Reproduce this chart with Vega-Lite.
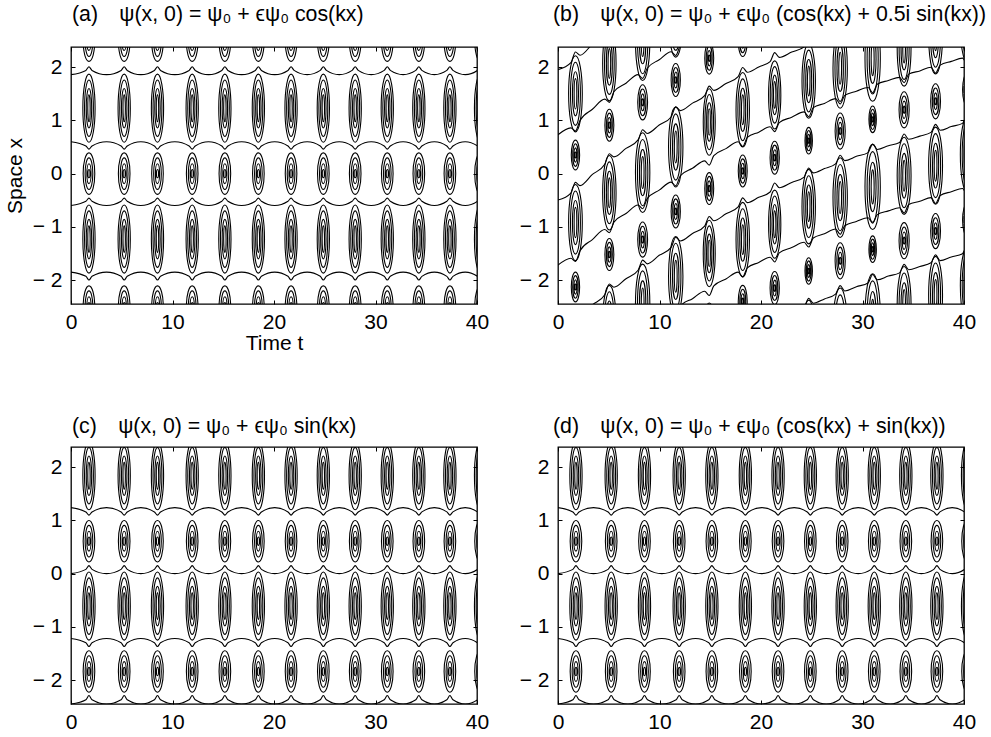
{
"$schema":"https://vega.github.io/schema/vega-lite/v6.json",
"background":"white",
"padding":{"left":3,"top":3,"right":5,"bottom":5},
"config":{"font":"Liberation Sans","view":{"stroke":"black","strokeWidth":1.3},
"axis":{"domain":false,"grid":false,"tickSize":-4,"tickColor":"black","tickWidth":1,"labelFontSize":21,"labelColor":"black","labelFont":"Liberation Sans","titleFontSize":21,"titleFont":"Liberation Sans","titleFontWeight":"normal","titleColor":"black"},
"title":{"fontSize":21.3,"fontWeight":"normal","color":"black","font":"Liberation Sans","anchor":"start","frame":"group"}},
"datasets":{
"ea":[
{"t":1.77,"x":2.5,"h":0.78,"k":"s"},{"t":1.77,"x":1.23,"h":1.28,"k":"b"},{"t":1.77,"x":0,"h":0.78,"k":"s"},{"t":1.77,"x":-1.23,"h":1.28,"k":"b"},{"t":1.77,"x":-2.5,"h":0.78,"k":"s"},
{"t":5.24,"x":2.5,"h":0.78,"k":"s"},{"t":5.24,"x":1.23,"h":1.28,"k":"b"},{"t":5.24,"x":0,"h":0.78,"k":"s"},{"t":5.24,"x":-1.23,"h":1.28,"k":"b"},{"t":5.24,"x":-2.5,"h":0.78,"k":"s"},
{"t":8.52,"x":2.5,"h":0.78,"k":"s"},{"t":8.52,"x":1.23,"h":1.28,"k":"b"},{"t":8.52,"x":0,"h":0.78,"k":"s"},{"t":8.52,"x":-1.23,"h":1.28,"k":"b"},{"t":8.52,"x":-2.5,"h":0.78,"k":"s"},
{"t":11.94,"x":2.5,"h":0.78,"k":"s"},{"t":11.94,"x":1.23,"h":1.28,"k":"b"},{"t":11.94,"x":0,"h":0.78,"k":"s"},{"t":11.94,"x":-1.23,"h":1.28,"k":"b"},{"t":11.94,"x":-2.5,"h":0.78,"k":"s"},
{"t":15.16,"x":2.5,"h":0.78,"k":"s"},{"t":15.16,"x":1.23,"h":1.28,"k":"b"},{"t":15.16,"x":0,"h":0.78,"k":"s"},{"t":15.16,"x":-1.23,"h":1.28,"k":"b"},{"t":15.16,"x":-2.5,"h":0.78,"k":"s"},
{"t":18.46,"x":2.5,"h":0.78,"k":"s"},{"t":18.46,"x":1.23,"h":1.28,"k":"b"},{"t":18.46,"x":0,"h":0.78,"k":"s"},{"t":18.46,"x":-1.23,"h":1.28,"k":"b"},{"t":18.46,"x":-2.5,"h":0.78,"k":"s"},
{"t":21.68,"x":2.5,"h":0.78,"k":"s"},{"t":21.68,"x":1.23,"h":1.28,"k":"b"},{"t":21.68,"x":0,"h":0.78,"k":"s"},{"t":21.68,"x":-1.23,"h":1.28,"k":"b"},{"t":21.68,"x":-2.5,"h":0.78,"k":"s"},
{"t":24.86,"x":2.5,"h":0.78,"k":"s"},{"t":24.86,"x":1.23,"h":1.28,"k":"b"},{"t":24.86,"x":0,"h":0.78,"k":"s"},{"t":24.86,"x":-1.23,"h":1.28,"k":"b"},{"t":24.86,"x":-2.5,"h":0.78,"k":"s"},
{"t":28.0,"x":2.5,"h":0.78,"k":"s"},{"t":28.0,"x":1.23,"h":1.28,"k":"b"},{"t":28.0,"x":0,"h":0.78,"k":"s"},{"t":28.0,"x":-1.23,"h":1.28,"k":"b"},{"t":28.0,"x":-2.5,"h":0.78,"k":"s"},
{"t":31.16,"x":2.5,"h":0.78,"k":"s"},{"t":31.16,"x":1.23,"h":1.28,"k":"b"},{"t":31.16,"x":0,"h":0.78,"k":"s"},{"t":31.16,"x":-1.23,"h":1.28,"k":"b"},{"t":31.16,"x":-2.5,"h":0.78,"k":"s"},
{"t":34.27,"x":2.5,"h":0.78,"k":"s"},{"t":34.27,"x":1.23,"h":1.28,"k":"b"},{"t":34.27,"x":0,"h":0.78,"k":"s"},{"t":34.27,"x":-1.23,"h":1.28,"k":"b"},{"t":34.27,"x":-2.5,"h":0.78,"k":"s"},
{"t":37.33,"x":2.5,"h":0.78,"k":"s"},{"t":37.33,"x":1.23,"h":1.28,"k":"b"},{"t":37.33,"x":0,"h":0.78,"k":"s"},{"t":37.33,"x":-1.23,"h":1.28,"k":"b"},{"t":37.33,"x":-2.5,"h":0.78,"k":"s"},
{"t":40.35,"x":2.5,"h":0.78,"k":"s"},{"t":40.35,"x":1.23,"h":1.28,"k":"b"},{"t":40.35,"x":0,"h":0.78,"k":"s"},{"t":40.35,"x":-1.23,"h":1.28,"k":"b"},{"t":40.35,"x":-2.5,"h":0.78,"k":"s"}
],
"ec":[
{"t":1.77,"x":1.84,"h":1.28,"k":"b"},{"t":1.77,"x":0.61,"h":0.78,"k":"s"},{"t":1.77,"x":-0.61,"h":1.28,"k":"b"},{"t":1.77,"x":-1.84,"h":0.78,"k":"s"},
{"t":5.24,"x":1.84,"h":1.28,"k":"b"},{"t":5.24,"x":0.61,"h":0.78,"k":"s"},{"t":5.24,"x":-0.61,"h":1.28,"k":"b"},{"t":5.24,"x":-1.84,"h":0.78,"k":"s"},
{"t":8.52,"x":1.84,"h":1.28,"k":"b"},{"t":8.52,"x":0.61,"h":0.78,"k":"s"},{"t":8.52,"x":-0.61,"h":1.28,"k":"b"},{"t":8.52,"x":-1.84,"h":0.78,"k":"s"},
{"t":11.94,"x":1.84,"h":1.28,"k":"b"},{"t":11.94,"x":0.61,"h":0.78,"k":"s"},{"t":11.94,"x":-0.61,"h":1.28,"k":"b"},{"t":11.94,"x":-1.84,"h":0.78,"k":"s"},
{"t":15.16,"x":1.84,"h":1.28,"k":"b"},{"t":15.16,"x":0.61,"h":0.78,"k":"s"},{"t":15.16,"x":-0.61,"h":1.28,"k":"b"},{"t":15.16,"x":-1.84,"h":0.78,"k":"s"},
{"t":18.46,"x":1.84,"h":1.28,"k":"b"},{"t":18.46,"x":0.61,"h":0.78,"k":"s"},{"t":18.46,"x":-0.61,"h":1.28,"k":"b"},{"t":18.46,"x":-1.84,"h":0.78,"k":"s"},
{"t":21.68,"x":1.84,"h":1.28,"k":"b"},{"t":21.68,"x":0.61,"h":0.78,"k":"s"},{"t":21.68,"x":-0.61,"h":1.28,"k":"b"},{"t":21.68,"x":-1.84,"h":0.78,"k":"s"},
{"t":24.86,"x":1.84,"h":1.28,"k":"b"},{"t":24.86,"x":0.61,"h":0.78,"k":"s"},{"t":24.86,"x":-0.61,"h":1.28,"k":"b"},{"t":24.86,"x":-1.84,"h":0.78,"k":"s"},
{"t":28.0,"x":1.84,"h":1.28,"k":"b"},{"t":28.0,"x":0.61,"h":0.78,"k":"s"},{"t":28.0,"x":-0.61,"h":1.28,"k":"b"},{"t":28.0,"x":-1.84,"h":0.78,"k":"s"},
{"t":31.16,"x":1.84,"h":1.28,"k":"b"},{"t":31.16,"x":0.61,"h":0.78,"k":"s"},{"t":31.16,"x":-0.61,"h":1.28,"k":"b"},{"t":31.16,"x":-1.84,"h":0.78,"k":"s"},
{"t":34.27,"x":1.84,"h":1.28,"k":"b"},{"t":34.27,"x":0.61,"h":0.78,"k":"s"},{"t":34.27,"x":-0.61,"h":1.28,"k":"b"},{"t":34.27,"x":-1.84,"h":0.78,"k":"s"},
{"t":37.33,"x":1.84,"h":1.28,"k":"b"},{"t":37.33,"x":0.61,"h":0.78,"k":"s"},{"t":37.33,"x":-0.61,"h":1.28,"k":"b"},{"t":37.33,"x":-1.84,"h":0.78,"k":"s"},
{"t":40.35,"x":1.84,"h":1.28,"k":"b"},{"t":40.35,"x":0.61,"h":0.78,"k":"s"},{"t":40.35,"x":-0.61,"h":1.28,"k":"b"},{"t":40.35,"x":-1.84,"h":0.78,"k":"s"}
],
"eb":[
{"t":1.72,"x":1.5,"h":1.43,"k":"b"},{"t":1.72,"x":0.35,"h":0.56,"k":"s"},{"t":1.72,"x":-0.92,"h":1.43,"k":"b"},{"t":1.72,"x":-2.13,"h":0.56,"k":"s"},
{"t":5.06,"x":2.07,"h":1.4,"k":"b"},{"t":5.06,"x":0.91,"h":0.6,"k":"s"},{"t":5.06,"x":-0.36,"h":1.4,"k":"b"},{"t":5.06,"x":-1.52,"h":0.6,"k":"s"},{"t":5.06,"x":-2.8,"h":1.4,"k":"b"},
{"t":8.34,"x":2.5,"h":1.5,"k":"b"},{"t":8.34,"x":1.34,"h":0.66,"k":"s"},{"t":8.34,"x":0.02,"h":1.5,"k":"b"},{"t":8.34,"x":-1.24,"h":0.66,"k":"s"},{"t":8.34,"x":-2.45,"h":1.5,"k":"b"},
{"t":11.6,"x":2.94,"h":1.5,"k":"b"},{"t":11.6,"x":1.76,"h":0.62,"k":"s"},{"t":11.6,"x":0.5,"h":1.5,"k":"b"},{"t":11.6,"x":-0.71,"h":0.62,"k":"s"},{"t":11.6,"x":-1.93,"h":1.5,"k":"b"},
{"t":14.9,"x":2.17,"h":0.6,"k":"s"},{"t":14.9,"x":0.97,"h":1.25,"k":"b"},{"t":14.9,"x":-0.28,"h":0.6,"k":"s"},{"t":14.9,"x":-1.5,"h":1.25,"k":"b"},{"t":14.9,"x":-2.73,"h":0.6,"k":"s"},
{"t":18.2,"x":2.5,"h":0.6,"k":"s"},{"t":18.2,"x":1.2,"h":1.4,"k":"b"},{"t":18.2,"x":0.05,"h":0.6,"k":"s"},{"t":18.2,"x":-1.24,"h":1.4,"k":"b"},{"t":18.2,"x":-2.4,"h":0.6,"k":"s"},
{"t":21.35,"x":1.48,"h":1.28,"k":"b"},{"t":21.35,"x":0.3,"h":0.62,"k":"s"},{"t":21.35,"x":-0.95,"h":1.28,"k":"b"},{"t":21.35,"x":-2.15,"h":0.62,"k":"s"},
{"t":24.7,"x":1.74,"h":1.4,"k":"b"},{"t":24.7,"x":0.62,"h":0.5,"k":"s"},{"t":24.7,"x":-0.62,"h":1.4,"k":"b"},{"t":24.7,"x":-1.83,"h":0.5,"k":"s"},{"t":24.7,"x":-3.08,"h":1.4,"k":"b"},
{"t":27.8,"x":1.98,"h":1.5,"k":"b"},{"t":27.8,"x":0.8,"h":0.68,"k":"s"},{"t":27.8,"x":-0.45,"h":1.5,"k":"b"},{"t":27.8,"x":-1.64,"h":0.68,"k":"s"},{"t":27.8,"x":-2.9,"h":1.5,"k":"b"},
{"t":31.0,"x":2.16,"h":1.6,"k":"b"},{"t":31.0,"x":1.02,"h":0.5,"k":"s"},{"t":31.0,"x":-0.25,"h":1.6,"k":"b"},{"t":31.0,"x":-1.42,"h":0.5,"k":"s"},{"t":31.0,"x":-2.68,"h":1.6,"k":"b"},
{"t":34.1,"x":2.37,"h":1.45,"k":"b"},{"t":34.1,"x":1.2,"h":0.68,"k":"s"},{"t":34.1,"x":-0.04,"h":1.45,"k":"b"},{"t":34.1,"x":-1.26,"h":0.68,"k":"s"},{"t":34.1,"x":-2.47,"h":1.45,"k":"b"},
{"t":37.2,"x":2.6,"h":1.45,"k":"b"},{"t":37.2,"x":1.36,"h":0.66,"k":"s"},{"t":37.2,"x":0.15,"h":1.45,"k":"b"},{"t":37.2,"x":-1.08,"h":0.66,"k":"s"},{"t":37.2,"x":-2.28,"h":1.45,"k":"b"},
{"t":40.3,"x":2.8,"h":1.4,"k":"b"},{"t":40.3,"x":1.58,"h":0.6,"k":"s"},{"t":40.3,"x":0.36,"h":1.4,"k":"b"},{"t":40.3,"x":-0.87,"h":0.6,"k":"s"},{"t":40.3,"x":-2.1,"h":1.4,"k":"b"}
],
"la":[
{"l":1,"t":0,"x":0.6},{"l":1,"t":1.47,"x":0.52},{"l":1,"t":1.77,"x":0.46},{"l":1,"t":2.07,"x":0.52},{"l":1,"t":3.5,"x":0.6},{"l":1,"t":4.94,"x":0.52},{"l":1,"t":5.24,"x":0.46},{"l":1,"t":5.54,"x":0.52},{"l":1,"t":6.88,"x":0.6},{"l":1,"t":8.22,"x":0.52},{"l":1,"t":8.52,"x":0.46},{"l":1,"t":8.82,"x":0.52},{"l":1,"t":10.23,"x":0.6},{"l":1,"t":11.64,"x":0.52},{"l":1,"t":11.94,"x":0.46},{"l":1,"t":12.24,"x":0.52},{"l":1,"t":13.55,"x":0.6},{"l":1,"t":14.86,"x":0.52},{"l":1,"t":15.16,"x":0.46},{"l":1,"t":15.46,"x":0.52},{"l":1,"t":16.81,"x":0.6},{"l":1,"t":18.16,"x":0.52},{"l":1,"t":18.46,"x":0.46},{"l":1,"t":18.76,"x":0.52},{"l":1,"t":20.07,"x":0.6},{"l":1,"t":21.38,"x":0.52},{"l":1,"t":21.68,"x":0.46},{"l":1,"t":21.98,"x":0.52},{"l":1,"t":23.27,"x":0.6},{"l":1,"t":24.56,"x":0.52},{"l":1,"t":24.86,"x":0.46},{"l":1,"t":25.16,"x":0.52},{"l":1,"t":26.43,"x":0.6},{"l":1,"t":27.7,"x":0.52},{"l":1,"t":28.0,"x":0.46},{"l":1,"t":28.3,"x":0.52},{"l":1,"t":29.58,"x":0.6},{"l":1,"t":30.86,"x":0.52},{"l":1,"t":31.16,"x":0.46},{"l":1,"t":31.46,"x":0.52},{"l":1,"t":32.72,"x":0.6},{"l":1,"t":33.97,"x":0.52},{"l":1,"t":34.27,"x":0.46},{"l":1,"t":34.57,"x":0.52},{"l":1,"t":35.8,"x":0.6},{"l":1,"t":37.03,"x":0.52},{"l":1,"t":37.33,"x":0.46},{"l":1,"t":37.63,"x":0.52},{"l":1,"t":38.84,"x":0.6},{"l":1,"t":40.05,"x":0.52},{"l":1,"t":40.35,"x":0.46},{"l":1,"t":40.65,"x":0.52},
{"l":2,"t":0,"x":-0.6},{"l":2,"t":1.47,"x":-0.52},{"l":2,"t":1.77,"x":-0.46},{"l":2,"t":2.07,"x":-0.52},{"l":2,"t":3.5,"x":-0.6},{"l":2,"t":4.94,"x":-0.52},{"l":2,"t":5.24,"x":-0.46},{"l":2,"t":5.54,"x":-0.52},{"l":2,"t":6.88,"x":-0.6},{"l":2,"t":8.22,"x":-0.52},{"l":2,"t":8.52,"x":-0.46},{"l":2,"t":8.82,"x":-0.52},{"l":2,"t":10.23,"x":-0.6},{"l":2,"t":11.64,"x":-0.52},{"l":2,"t":11.94,"x":-0.46},{"l":2,"t":12.24,"x":-0.52},{"l":2,"t":13.55,"x":-0.6},{"l":2,"t":14.86,"x":-0.52},{"l":2,"t":15.16,"x":-0.46},{"l":2,"t":15.46,"x":-0.52},{"l":2,"t":16.81,"x":-0.6},{"l":2,"t":18.16,"x":-0.52},{"l":2,"t":18.46,"x":-0.46},{"l":2,"t":18.76,"x":-0.52},{"l":2,"t":20.07,"x":-0.6},{"l":2,"t":21.38,"x":-0.52},{"l":2,"t":21.68,"x":-0.46},{"l":2,"t":21.98,"x":-0.52},{"l":2,"t":23.27,"x":-0.6},{"l":2,"t":24.56,"x":-0.52},{"l":2,"t":24.86,"x":-0.46},{"l":2,"t":25.16,"x":-0.52},{"l":2,"t":26.43,"x":-0.6},{"l":2,"t":27.7,"x":-0.52},{"l":2,"t":28.0,"x":-0.46},{"l":2,"t":28.3,"x":-0.52},{"l":2,"t":29.58,"x":-0.6},{"l":2,"t":30.86,"x":-0.52},{"l":2,"t":31.16,"x":-0.46},{"l":2,"t":31.46,"x":-0.52},{"l":2,"t":32.72,"x":-0.6},{"l":2,"t":33.97,"x":-0.52},{"l":2,"t":34.27,"x":-0.46},{"l":2,"t":34.57,"x":-0.52},{"l":2,"t":35.8,"x":-0.6},{"l":2,"t":37.03,"x":-0.52},{"l":2,"t":37.33,"x":-0.46},{"l":2,"t":37.63,"x":-0.52},{"l":2,"t":38.84,"x":-0.6},{"l":2,"t":40.05,"x":-0.52},{"l":2,"t":40.35,"x":-0.46},{"l":2,"t":40.65,"x":-0.52},
{"l":3,"t":0,"x":1.86},{"l":3,"t":1.47,"x":1.94},{"l":3,"t":1.77,"x":2.01},{"l":3,"t":2.07,"x":1.94},{"l":3,"t":3.5,"x":1.86},{"l":3,"t":4.94,"x":1.94},{"l":3,"t":5.24,"x":2.01},{"l":3,"t":5.54,"x":1.94},{"l":3,"t":6.88,"x":1.86},{"l":3,"t":8.22,"x":1.94},{"l":3,"t":8.52,"x":2.01},{"l":3,"t":8.82,"x":1.94},{"l":3,"t":10.23,"x":1.86},{"l":3,"t":11.64,"x":1.94},{"l":3,"t":11.94,"x":2.01},{"l":3,"t":12.24,"x":1.94},{"l":3,"t":13.55,"x":1.86},{"l":3,"t":14.86,"x":1.94},{"l":3,"t":15.16,"x":2.01},{"l":3,"t":15.46,"x":1.94},{"l":3,"t":16.81,"x":1.86},{"l":3,"t":18.16,"x":1.94},{"l":3,"t":18.46,"x":2.01},{"l":3,"t":18.76,"x":1.94},{"l":3,"t":20.07,"x":1.86},{"l":3,"t":21.38,"x":1.94},{"l":3,"t":21.68,"x":2.01},{"l":3,"t":21.98,"x":1.94},{"l":3,"t":23.27,"x":1.86},{"l":3,"t":24.56,"x":1.94},{"l":3,"t":24.86,"x":2.01},{"l":3,"t":25.16,"x":1.94},{"l":3,"t":26.43,"x":1.86},{"l":3,"t":27.7,"x":1.94},{"l":3,"t":28.0,"x":2.01},{"l":3,"t":28.3,"x":1.94},{"l":3,"t":29.58,"x":1.86},{"l":3,"t":30.86,"x":1.94},{"l":3,"t":31.16,"x":2.01},{"l":3,"t":31.46,"x":1.94},{"l":3,"t":32.72,"x":1.86},{"l":3,"t":33.97,"x":1.94},{"l":3,"t":34.27,"x":2.01},{"l":3,"t":34.57,"x":1.94},{"l":3,"t":35.8,"x":1.86},{"l":3,"t":37.03,"x":1.94},{"l":3,"t":37.33,"x":2.01},{"l":3,"t":37.63,"x":1.94},{"l":3,"t":38.84,"x":1.86},{"l":3,"t":40.05,"x":1.94},{"l":3,"t":40.35,"x":2.01},{"l":3,"t":40.65,"x":1.94},
{"l":4,"t":0,"x":-1.85},{"l":4,"t":1.47,"x":-1.93},{"l":4,"t":1.77,"x":-2.0},{"l":4,"t":2.07,"x":-1.93},{"l":4,"t":3.5,"x":-1.85},{"l":4,"t":4.94,"x":-1.93},{"l":4,"t":5.24,"x":-2.0},{"l":4,"t":5.54,"x":-1.93},{"l":4,"t":6.88,"x":-1.85},{"l":4,"t":8.22,"x":-1.93},{"l":4,"t":8.52,"x":-2.0},{"l":4,"t":8.82,"x":-1.93},{"l":4,"t":10.23,"x":-1.85},{"l":4,"t":11.64,"x":-1.93},{"l":4,"t":11.94,"x":-2.0},{"l":4,"t":12.24,"x":-1.93},{"l":4,"t":13.55,"x":-1.85},{"l":4,"t":14.86,"x":-1.93},{"l":4,"t":15.16,"x":-2.0},{"l":4,"t":15.46,"x":-1.93},{"l":4,"t":16.81,"x":-1.85},{"l":4,"t":18.16,"x":-1.93},{"l":4,"t":18.46,"x":-2.0},{"l":4,"t":18.76,"x":-1.93},{"l":4,"t":20.07,"x":-1.85},{"l":4,"t":21.38,"x":-1.93},{"l":4,"t":21.68,"x":-2.0},{"l":4,"t":21.98,"x":-1.93},{"l":4,"t":23.27,"x":-1.85},{"l":4,"t":24.56,"x":-1.93},{"l":4,"t":24.86,"x":-2.0},{"l":4,"t":25.16,"x":-1.93},{"l":4,"t":26.43,"x":-1.85},{"l":4,"t":27.7,"x":-1.93},{"l":4,"t":28.0,"x":-2.0},{"l":4,"t":28.3,"x":-1.93},{"l":4,"t":29.58,"x":-1.85},{"l":4,"t":30.86,"x":-1.93},{"l":4,"t":31.16,"x":-2.0},{"l":4,"t":31.46,"x":-1.93},{"l":4,"t":32.72,"x":-1.85},{"l":4,"t":33.97,"x":-1.93},{"l":4,"t":34.27,"x":-2.0},{"l":4,"t":34.57,"x":-1.93},{"l":4,"t":35.8,"x":-1.85},{"l":4,"t":37.03,"x":-1.93},{"l":4,"t":37.33,"x":-2.0},{"l":4,"t":37.63,"x":-1.93},{"l":4,"t":38.84,"x":-1.85},{"l":4,"t":40.05,"x":-1.93},{"l":4,"t":40.35,"x":-2.0},{"l":4,"t":40.65,"x":-1.93}
],
"lc":[
{"l":1,"t":0,"x":1.24},{"l":1,"t":1.47,"x":1.16},{"l":1,"t":1.77,"x":1.1},{"l":1,"t":2.07,"x":1.16},{"l":1,"t":3.5,"x":1.24},{"l":1,"t":4.94,"x":1.16},{"l":1,"t":5.24,"x":1.1},{"l":1,"t":5.54,"x":1.16},{"l":1,"t":6.88,"x":1.24},{"l":1,"t":8.22,"x":1.16},{"l":1,"t":8.52,"x":1.1},{"l":1,"t":8.82,"x":1.16},{"l":1,"t":10.23,"x":1.24},{"l":1,"t":11.64,"x":1.16},{"l":1,"t":11.94,"x":1.1},{"l":1,"t":12.24,"x":1.16},{"l":1,"t":13.55,"x":1.24},{"l":1,"t":14.86,"x":1.16},{"l":1,"t":15.16,"x":1.1},{"l":1,"t":15.46,"x":1.16},{"l":1,"t":16.81,"x":1.24},{"l":1,"t":18.16,"x":1.16},{"l":1,"t":18.46,"x":1.1},{"l":1,"t":18.76,"x":1.16},{"l":1,"t":20.07,"x":1.24},{"l":1,"t":21.38,"x":1.16},{"l":1,"t":21.68,"x":1.1},{"l":1,"t":21.98,"x":1.16},{"l":1,"t":23.27,"x":1.24},{"l":1,"t":24.56,"x":1.16},{"l":1,"t":24.86,"x":1.1},{"l":1,"t":25.16,"x":1.16},{"l":1,"t":26.43,"x":1.24},{"l":1,"t":27.7,"x":1.16},{"l":1,"t":28.0,"x":1.1},{"l":1,"t":28.3,"x":1.16},{"l":1,"t":29.58,"x":1.24},{"l":1,"t":30.86,"x":1.16},{"l":1,"t":31.16,"x":1.1},{"l":1,"t":31.46,"x":1.16},{"l":1,"t":32.72,"x":1.24},{"l":1,"t":33.97,"x":1.16},{"l":1,"t":34.27,"x":1.1},{"l":1,"t":34.57,"x":1.16},{"l":1,"t":35.8,"x":1.24},{"l":1,"t":37.03,"x":1.16},{"l":1,"t":37.33,"x":1.1},{"l":1,"t":37.63,"x":1.16},{"l":1,"t":38.84,"x":1.24},{"l":1,"t":40.05,"x":1.16},{"l":1,"t":40.35,"x":1.1},{"l":1,"t":40.65,"x":1.16},
{"l":2,"t":0,"x":0},{"l":2,"t":1.47,"x":0.08},{"l":2,"t":1.77,"x":0.15},{"l":2,"t":2.07,"x":0.08},{"l":2,"t":3.5,"x":0},{"l":2,"t":4.94,"x":0.08},{"l":2,"t":5.24,"x":0.15},{"l":2,"t":5.54,"x":0.08},{"l":2,"t":6.88,"x":0},{"l":2,"t":8.22,"x":0.08},{"l":2,"t":8.52,"x":0.15},{"l":2,"t":8.82,"x":0.08},{"l":2,"t":10.23,"x":0},{"l":2,"t":11.64,"x":0.08},{"l":2,"t":11.94,"x":0.15},{"l":2,"t":12.24,"x":0.08},{"l":2,"t":13.55,"x":0},{"l":2,"t":14.86,"x":0.08},{"l":2,"t":15.16,"x":0.15},{"l":2,"t":15.46,"x":0.08},{"l":2,"t":16.81,"x":0},{"l":2,"t":18.16,"x":0.08},{"l":2,"t":18.46,"x":0.15},{"l":2,"t":18.76,"x":0.08},{"l":2,"t":20.07,"x":0},{"l":2,"t":21.38,"x":0.08},{"l":2,"t":21.68,"x":0.15},{"l":2,"t":21.98,"x":0.08},{"l":2,"t":23.27,"x":0},{"l":2,"t":24.56,"x":0.08},{"l":2,"t":24.86,"x":0.15},{"l":2,"t":25.16,"x":0.08},{"l":2,"t":26.43,"x":0},{"l":2,"t":27.7,"x":0.08},{"l":2,"t":28.0,"x":0.15},{"l":2,"t":28.3,"x":0.08},{"l":2,"t":29.58,"x":0},{"l":2,"t":30.86,"x":0.08},{"l":2,"t":31.16,"x":0.15},{"l":2,"t":31.46,"x":0.08},{"l":2,"t":32.72,"x":0},{"l":2,"t":33.97,"x":0.08},{"l":2,"t":34.27,"x":0.15},{"l":2,"t":34.57,"x":0.08},{"l":2,"t":35.8,"x":0},{"l":2,"t":37.03,"x":0.08},{"l":2,"t":37.33,"x":0.15},{"l":2,"t":37.63,"x":0.08},{"l":2,"t":38.84,"x":0},{"l":2,"t":40.05,"x":0.08},{"l":2,"t":40.35,"x":0.15},{"l":2,"t":40.65,"x":0.08},
{"l":3,"t":0,"x":-1.22},{"l":3,"t":1.47,"x":-1.3},{"l":3,"t":1.77,"x":-1.37},{"l":3,"t":2.07,"x":-1.3},{"l":3,"t":3.5,"x":-1.22},{"l":3,"t":4.94,"x":-1.3},{"l":3,"t":5.24,"x":-1.37},{"l":3,"t":5.54,"x":-1.3},{"l":3,"t":6.88,"x":-1.22},{"l":3,"t":8.22,"x":-1.3},{"l":3,"t":8.52,"x":-1.37},{"l":3,"t":8.82,"x":-1.3},{"l":3,"t":10.23,"x":-1.22},{"l":3,"t":11.64,"x":-1.3},{"l":3,"t":11.94,"x":-1.37},{"l":3,"t":12.24,"x":-1.3},{"l":3,"t":13.55,"x":-1.22},{"l":3,"t":14.86,"x":-1.3},{"l":3,"t":15.16,"x":-1.37},{"l":3,"t":15.46,"x":-1.3},{"l":3,"t":16.81,"x":-1.22},{"l":3,"t":18.16,"x":-1.3},{"l":3,"t":18.46,"x":-1.37},{"l":3,"t":18.76,"x":-1.3},{"l":3,"t":20.07,"x":-1.22},{"l":3,"t":21.38,"x":-1.3},{"l":3,"t":21.68,"x":-1.37},{"l":3,"t":21.98,"x":-1.3},{"l":3,"t":23.27,"x":-1.22},{"l":3,"t":24.56,"x":-1.3},{"l":3,"t":24.86,"x":-1.37},{"l":3,"t":25.16,"x":-1.3},{"l":3,"t":26.43,"x":-1.22},{"l":3,"t":27.7,"x":-1.3},{"l":3,"t":28.0,"x":-1.37},{"l":3,"t":28.3,"x":-1.3},{"l":3,"t":29.58,"x":-1.22},{"l":3,"t":30.86,"x":-1.3},{"l":3,"t":31.16,"x":-1.37},{"l":3,"t":31.46,"x":-1.3},{"l":3,"t":32.72,"x":-1.22},{"l":3,"t":33.97,"x":-1.3},{"l":3,"t":34.27,"x":-1.37},{"l":3,"t":34.57,"x":-1.3},{"l":3,"t":35.8,"x":-1.22},{"l":3,"t":37.03,"x":-1.3},{"l":3,"t":37.33,"x":-1.37},{"l":3,"t":37.63,"x":-1.3},{"l":3,"t":38.84,"x":-1.22},{"l":3,"t":40.05,"x":-1.3},{"l":3,"t":40.35,"x":-1.37},{"l":3,"t":40.65,"x":-1.3},
{"l":4,"t":0,"x":-2.45},{"l":4,"t":1.47,"x":-2.37},{"l":4,"t":1.77,"x":-2.29},{"l":4,"t":2.07,"x":-2.37},{"l":4,"t":3.5,"x":-2.45},{"l":4,"t":4.94,"x":-2.37},{"l":4,"t":5.24,"x":-2.29},{"l":4,"t":5.54,"x":-2.37},{"l":4,"t":6.88,"x":-2.45},{"l":4,"t":8.22,"x":-2.37},{"l":4,"t":8.52,"x":-2.29},{"l":4,"t":8.82,"x":-2.37},{"l":4,"t":10.23,"x":-2.45},{"l":4,"t":11.64,"x":-2.37},{"l":4,"t":11.94,"x":-2.29},{"l":4,"t":12.24,"x":-2.37},{"l":4,"t":13.55,"x":-2.45},{"l":4,"t":14.86,"x":-2.37},{"l":4,"t":15.16,"x":-2.29},{"l":4,"t":15.46,"x":-2.37},{"l":4,"t":16.81,"x":-2.45},{"l":4,"t":18.16,"x":-2.37},{"l":4,"t":18.46,"x":-2.29},{"l":4,"t":18.76,"x":-2.37},{"l":4,"t":20.07,"x":-2.45},{"l":4,"t":21.38,"x":-2.37},{"l":4,"t":21.68,"x":-2.29},{"l":4,"t":21.98,"x":-2.37},{"l":4,"t":23.27,"x":-2.45},{"l":4,"t":24.56,"x":-2.37},{"l":4,"t":24.86,"x":-2.29},{"l":4,"t":25.16,"x":-2.37},{"l":4,"t":26.43,"x":-2.45},{"l":4,"t":27.7,"x":-2.37},{"l":4,"t":28.0,"x":-2.29},{"l":4,"t":28.3,"x":-2.37},{"l":4,"t":29.58,"x":-2.45},{"l":4,"t":30.86,"x":-2.37},{"l":4,"t":31.16,"x":-2.29},{"l":4,"t":31.46,"x":-2.37},{"l":4,"t":32.72,"x":-2.45},{"l":4,"t":33.97,"x":-2.37},{"l":4,"t":34.27,"x":-2.29},{"l":4,"t":34.57,"x":-2.37},{"l":4,"t":35.8,"x":-2.45},{"l":4,"t":37.03,"x":-2.37},{"l":4,"t":37.33,"x":-2.29},{"l":4,"t":37.63,"x":-2.37},{"l":4,"t":38.84,"x":-2.45},{"l":4,"t":40.05,"x":-2.37},{"l":4,"t":40.35,"x":-2.29},{"l":4,"t":40.65,"x":-2.37}
],
"lb":[
{"l":1,"t":0,"x":1.955},{"l":1,"t":1.27,"x":2.085},{"l":1,"t":1.72,"x":2.285},{"l":1,"t":2.17,"x":2.225},{"l":1,"t":3.39,"x":2.435},{"l":1,"t":4.61,"x":2.625},{"l":1,"t":5.06,"x":2.825},
{"l":2,"t":0,"x":0.73},{"l":2,"t":1.27,"x":0.86},{"l":2,"t":1.72,"x":0.8},{"l":2,"t":2.17,"x":1.0},{"l":2,"t":3.39,"x":1.21},{"l":2,"t":4.61,"x":1.4},{"l":2,"t":5.06,"x":1.34},{"l":2,"t":5.51,"x":1.54},{"l":2,"t":6.7,"x":1.7},{"l":2,"t":7.89,"x":1.86},{"l":2,"t":8.34,"x":1.79},{"l":2,"t":8.79,"x":1.98},{"l":2,"t":9.97,"x":2.14},{"l":2,"t":11.15,"x":2.29},{"l":2,"t":11.6,"x":2.22},{"l":2,"t":12.05,"x":2.41},{"l":2,"t":13.25,"x":2.55},{"l":2,"t":14.45,"x":2.69},
{"l":3,"t":0,"x":-0.495},{"l":3,"t":1.27,"x":-0.365},{"l":3,"t":1.72,"x":-0.165},{"l":3,"t":2.17,"x":-0.225},{"l":3,"t":3.39,"x":-0.015},{"l":3,"t":4.61,"x":0.175},{"l":3,"t":5.06,"x":0.375},{"l":3,"t":5.51,"x":0.315},{"l":3,"t":6.7,"x":0.475},{"l":3,"t":7.89,"x":0.635},{"l":3,"t":8.34,"x":0.825},{"l":3,"t":8.79,"x":0.755},{"l":3,"t":9.97,"x":0.915},{"l":3,"t":11.15,"x":1.065},{"l":3,"t":11.6,"x":1.255},{"l":3,"t":12.05,"x":1.185},{"l":3,"t":13.25,"x":1.325},{"l":3,"t":14.45,"x":1.465},{"l":3,"t":14.9,"x":1.645},{"l":3,"t":15.35,"x":1.565},{"l":3,"t":16.55,"x":1.695},{"l":3,"t":17.75,"x":1.825},{"l":3,"t":18.2,"x":1.995},{"l":3,"t":18.65,"x":1.905},{"l":3,"t":19.78,"x":2.005},{"l":3,"t":20.9,"x":2.105},{"l":3,"t":21.35,"x":2.275},{"l":3,"t":21.8,"x":2.185},{"l":3,"t":23.03,"x":2.285},{"l":3,"t":24.25,"x":2.385},{"l":3,"t":24.7,"x":2.555},{"l":3,"t":25.15,"x":2.465},
{"l":4,"t":0,"x":-1.72},{"l":4,"t":1.27,"x":-1.59},{"l":4,"t":1.72,"x":-1.65},{"l":4,"t":2.17,"x":-1.45},{"l":4,"t":3.39,"x":-1.24},{"l":4,"t":4.61,"x":-1.05},{"l":4,"t":5.06,"x":-1.11},{"l":4,"t":5.51,"x":-0.91},{"l":4,"t":6.7,"x":-0.75},{"l":4,"t":7.89,"x":-0.59},{"l":4,"t":8.34,"x":-0.66},{"l":4,"t":8.79,"x":-0.47},{"l":4,"t":9.97,"x":-0.31},{"l":4,"t":11.15,"x":-0.16},{"l":4,"t":11.6,"x":-0.23},{"l":4,"t":12.05,"x":-0.04},{"l":4,"t":13.25,"x":0.1},{"l":4,"t":14.45,"x":0.24},{"l":4,"t":14.9,"x":0.16},{"l":4,"t":15.35,"x":0.34},{"l":4,"t":16.55,"x":0.47},{"l":4,"t":17.75,"x":0.6},{"l":4,"t":18.2,"x":0.51},{"l":4,"t":18.65,"x":0.68},{"l":4,"t":19.78,"x":0.78},{"l":4,"t":20.9,"x":0.88},{"l":4,"t":21.35,"x":0.79},{"l":4,"t":21.8,"x":0.96},{"l":4,"t":23.03,"x":1.06},{"l":4,"t":24.25,"x":1.16},{"l":4,"t":24.7,"x":1.07},{"l":4,"t":25.15,"x":1.24},{"l":4,"t":26.25,"x":1.32},{"l":4,"t":27.35,"x":1.41},{"l":4,"t":27.8,"x":1.31},{"l":4,"t":28.25,"x":1.47},{"l":4,"t":29.4,"x":1.55},{"l":4,"t":30.55,"x":1.62},{"l":4,"t":31.0,"x":1.52},{"l":4,"t":31.45,"x":1.68},{"l":4,"t":32.55,"x":1.75},{"l":4,"t":33.65,"x":1.81},{"l":4,"t":34.1,"x":1.71},{"l":4,"t":34.55,"x":1.87},{"l":4,"t":35.65,"x":1.93},{"l":4,"t":36.75,"x":2.0},{"l":4,"t":37.2,"x":1.89},{"l":4,"t":37.65,"x":2.04},{"l":4,"t":38.75,"x":2.11},{"l":4,"t":39.85,"x":2.17},{"l":4,"t":40.3,"x":2.06},{"l":4,"t":40.75,"x":2.21},
{"l":5,"t":0,"x":-2.945},{"l":5,"t":1.27,"x":-2.815},{"l":5,"t":1.72,"x":-2.615},{"l":5,"t":2.17,"x":-2.675},{"l":5,"t":3.39,"x":-2.465},{"l":5,"t":4.61,"x":-2.275},{"l":5,"t":5.06,"x":-2.075},{"l":5,"t":5.51,"x":-2.135},{"l":5,"t":6.7,"x":-1.975},{"l":5,"t":7.89,"x":-1.815},{"l":5,"t":8.34,"x":-1.625},{"l":5,"t":8.79,"x":-1.695},{"l":5,"t":9.97,"x":-1.535},{"l":5,"t":11.15,"x":-1.385},{"l":5,"t":11.6,"x":-1.195},{"l":5,"t":12.05,"x":-1.265},{"l":5,"t":13.25,"x":-1.125},{"l":5,"t":14.45,"x":-0.985},{"l":5,"t":14.9,"x":-0.805},{"l":5,"t":15.35,"x":-0.885},{"l":5,"t":16.55,"x":-0.755},{"l":5,"t":17.75,"x":-0.625},{"l":5,"t":18.2,"x":-0.455},{"l":5,"t":18.65,"x":-0.545},{"l":5,"t":19.78,"x":-0.445},{"l":5,"t":20.9,"x":-0.345},{"l":5,"t":21.35,"x":-0.175},{"l":5,"t":21.8,"x":-0.265},{"l":5,"t":23.03,"x":-0.165},{"l":5,"t":24.25,"x":-0.065},{"l":5,"t":24.7,"x":0.105},{"l":5,"t":25.15,"x":0.015},{"l":5,"t":26.25,"x":0.095},{"l":5,"t":27.35,"x":0.185},{"l":5,"t":27.8,"x":0.345},{"l":5,"t":28.25,"x":0.245},{"l":5,"t":29.4,"x":0.325},{"l":5,"t":30.55,"x":0.395},{"l":5,"t":31.0,"x":0.555},{"l":5,"t":31.45,"x":0.455},{"l":5,"t":32.55,"x":0.525},{"l":5,"t":33.65,"x":0.585},{"l":5,"t":34.1,"x":0.745},{"l":5,"t":34.55,"x":0.645},{"l":5,"t":35.65,"x":0.705},{"l":5,"t":36.75,"x":0.775},{"l":5,"t":37.2,"x":0.925},{"l":5,"t":37.65,"x":0.815},{"l":5,"t":38.75,"x":0.885},{"l":5,"t":39.85,"x":0.945},{"l":5,"t":40.3,"x":1.095},{"l":5,"t":40.75,"x":0.985},
{"l":6,"t":7.89,"x":-3.04},{"l":6,"t":8.34,"x":-3.11},{"l":6,"t":8.79,"x":-2.92},{"l":6,"t":9.97,"x":-2.76},{"l":6,"t":11.15,"x":-2.61},{"l":6,"t":11.6,"x":-2.68},{"l":6,"t":12.05,"x":-2.49},{"l":6,"t":13.25,"x":-2.35},{"l":6,"t":14.45,"x":-2.21},{"l":6,"t":14.9,"x":-2.29},{"l":6,"t":15.35,"x":-2.11},{"l":6,"t":16.55,"x":-1.98},{"l":6,"t":17.75,"x":-1.85},{"l":6,"t":18.2,"x":-1.94},{"l":6,"t":18.65,"x":-1.77},{"l":6,"t":19.78,"x":-1.67},{"l":6,"t":20.9,"x":-1.57},{"l":6,"t":21.35,"x":-1.66},{"l":6,"t":21.8,"x":-1.49},{"l":6,"t":23.03,"x":-1.39},{"l":6,"t":24.25,"x":-1.29},{"l":6,"t":24.7,"x":-1.38},{"l":6,"t":25.15,"x":-1.21},{"l":6,"t":26.25,"x":-1.13},{"l":6,"t":27.35,"x":-1.04},{"l":6,"t":27.8,"x":-1.14},{"l":6,"t":28.25,"x":-0.98},{"l":6,"t":29.4,"x":-0.9},{"l":6,"t":30.55,"x":-0.83},{"l":6,"t":31.0,"x":-0.93},{"l":6,"t":31.45,"x":-0.77},{"l":6,"t":32.55,"x":-0.7},{"l":6,"t":33.65,"x":-0.64},{"l":6,"t":34.1,"x":-0.74},{"l":6,"t":34.55,"x":-0.58},{"l":6,"t":35.65,"x":-0.52},{"l":6,"t":36.75,"x":-0.45},{"l":6,"t":37.2,"x":-0.56},{"l":6,"t":37.65,"x":-0.41},{"l":6,"t":38.75,"x":-0.34},{"l":6,"t":39.85,"x":-0.28},{"l":6,"t":40.3,"x":-0.39},{"l":6,"t":40.75,"x":-0.24},
{"l":7,"t":17.75,"x":-3.075},{"l":7,"t":18.2,"x":-2.905},{"l":7,"t":18.65,"x":-2.995},{"l":7,"t":19.78,"x":-2.895},{"l":7,"t":20.9,"x":-2.795},{"l":7,"t":21.35,"x":-2.625},{"l":7,"t":21.8,"x":-2.715},{"l":7,"t":23.03,"x":-2.615},{"l":7,"t":24.25,"x":-2.515},{"l":7,"t":24.7,"x":-2.345},{"l":7,"t":25.15,"x":-2.435},{"l":7,"t":26.25,"x":-2.355},{"l":7,"t":27.35,"x":-2.265},{"l":7,"t":27.8,"x":-2.105},{"l":7,"t":28.25,"x":-2.205},{"l":7,"t":29.4,"x":-2.125},{"l":7,"t":30.55,"x":-2.055},{"l":7,"t":31.0,"x":-1.895},{"l":7,"t":31.45,"x":-1.995},{"l":7,"t":32.55,"x":-1.925},{"l":7,"t":33.65,"x":-1.865},{"l":7,"t":34.1,"x":-1.705},{"l":7,"t":34.55,"x":-1.805},{"l":7,"t":35.65,"x":-1.745},{"l":7,"t":36.75,"x":-1.675},{"l":7,"t":37.2,"x":-1.525},{"l":7,"t":37.65,"x":-1.635},{"l":7,"t":38.75,"x":-1.565},{"l":7,"t":39.85,"x":-1.505},{"l":7,"t":40.3,"x":-1.355},{"l":7,"t":40.75,"x":-1.465}
]
},
"columns":2,
"spacing":{"row":143,"column":81},
"bounds":"flush",
"concat":[
{"width":406,"height":257,
"title":{"text":"(a)\u2003ψ(x, 0) = ψ₀ + ϵψ₀ cos(kx)","offset":21,"dx":1},
"layer":[
{"data":{"name":"ea"},"mark":{"type":"point","filled":false,"stroke":"black","strokeWidth":1.1,"opacity":1,"clip":true},
"encoding":{
"x":{"field":"t","type":"quantitative","scale":{"domain":[0,40],"nice":false,"zero":false},"axis":{"orient":"bottom","values":[0,10,20,30,40],"labelPadding":11.5,"labelFlush":false,"labelOverlap":false,"title":"Time t","titlePadding":0}},
"y":{"field":"x","type":"quantitative","scale":{"domain":[-2.45,2.38],"nice":false,"zero":false},"axis":{"orient":"left","values":[-2,-1,0,1,2],"labelPadding":13,"labelFlush":false,"labelOverlap":false,"labelExpr":"datum.value < 0 ? '− ' + abs(datum.value) : datum.label","title":"Space x","titlePadding":7}},
"shape":{"field":"k","type":"nominal","legend":null,"scale":{"domain":["b","s"],"range":["M0,-1C0.099,-1 0.18,-0.552 0.18,0C0.18,0.552 0.099,1 0,1C-0.099,1 -0.18,0.552 -0.18,0C-0.18,-0.552 -0.099,-1 0,-1ZM0,-0.83C0.072,-0.83 0.13,-0.458 0.13,0C0.13,0.458 0.072,0.83 0,0.83C-0.072,0.83 -0.13,0.458 -0.13,0C-0.13,-0.458 -0.072,-0.83 0,-0.83ZM0,-0.58C0.044,-0.58 0.08,-0.32 0.08,0C0.08,0.32 0.044,0.58 0,0.58C-0.044,0.58 -0.08,0.32 -0.08,0C-0.08,-0.32 -0.044,-0.58 0,-0.58ZM0,-0.4C0.019,-0.4 0.035,-0.221 0.035,0C0.035,0.221 0.019,0.4 0,0.4C-0.019,0.4 -0.035,0.221 -0.035,0C-0.035,-0.221 -0.019,-0.4 0,-0.4Z","M0,-1C0.155,-1 0.28,-0.552 0.28,0C0.28,0.552 0.155,1 0,1C-0.155,1 -0.28,0.552 -0.28,0C-0.28,-0.552 -0.155,-1 0,-1ZM0,-0.76C0.102,-0.76 0.185,-0.42 0.185,0C0.185,0.42 0.102,0.76 0,0.76C-0.102,0.76 -0.185,0.42 -0.185,0C-0.185,-0.42 -0.102,-0.76 0,-0.76ZM0,-0.48C0.055,-0.48 0.1,-0.265 0.1,0C0.1,0.265 0.055,0.48 0,0.48C-0.055,0.48 -0.1,0.265 -0.1,0C-0.1,-0.265 -0.055,-0.48 0,-0.48ZM0,-0.2C0.028,-0.2 0.05,-0.11 0.05,0C0.05,0.11 0.028,0.2 0,0.2C-0.028,0.2 -0.05,0.11 -0.05,0C-0.05,-0.11 -0.028,-0.2 0,-0.2Z"]}},
"size":{"field":"h","type":"quantitative","legend":null,"scale":{"type":"pow","exponent":2,"domain":[0,1],"range":[0,2830]}}
}},
{"data":{"name":"la"},"mark":{"type":"line","color":"black","strokeWidth":1.1,"interpolate":"monotone","clip":true},
"encoding":{
"x":{"field":"t","type":"quantitative","scale":{"domain":[0,40],"nice":false,"zero":false},"axis":{"orient":"top","values":[0,10,20,30,40],"labels":false,"title":null}},
"y":{"field":"x","type":"quantitative","scale":{"domain":[-2.45,2.38],"nice":false,"zero":false},"axis":{"orient":"right","values":[-2,-1,0,1,2],"labels":false,"title":null}},
"detail":{"field":"l","type":"nominal"}
}}
],
"resolve":{"axis":{"x":"independent","y":"independent"}}
},
{"width":406,"height":257,
"title":{"text":"(b)\u2003ψ(x, 0) = ψ₀ + ϵψ₀ (cos(kx) + 0.5i sin(kx))","offset":21,"dx":-5},
"layer":[
{"data":{"name":"eb"},"mark":{"type":"point","filled":false,"stroke":"black","strokeWidth":1.1,"opacity":1,"clip":true},
"encoding":{
"x":{"field":"t","type":"quantitative","scale":{"domain":[0,40],"nice":false,"zero":false},"axis":{"orient":"bottom","values":[0,10,20,30,40],"labelPadding":11.5,"labelFlush":false,"labelOverlap":false,"title":null}},
"y":{"field":"x","type":"quantitative","scale":{"domain":[-2.45,2.38],"nice":false,"zero":false},"axis":{"orient":"left","values":[-2,-1,0,1,2],"labelPadding":13,"labelFlush":false,"labelOverlap":false,"labelExpr":"datum.value < 0 ? '− ' + abs(datum.value) : datum.label","title":null}},
"shape":{"field":"k","type":"nominal","legend":null,"scale":{"domain":["b","s"],"range":["M0,-1C0.099,-1 0.18,-0.552 0.18,0C0.18,0.552 0.099,1 0,1C-0.099,1 -0.18,0.552 -0.18,0C-0.18,-0.552 -0.099,-1 0,-1ZM0,-0.83C0.072,-0.83 0.13,-0.458 0.13,0C0.13,0.458 0.072,0.83 0,0.83C-0.072,0.83 -0.13,0.458 -0.13,0C-0.13,-0.458 -0.072,-0.83 0,-0.83ZM0,-0.58C0.044,-0.58 0.08,-0.32 0.08,0C0.08,0.32 0.044,0.58 0,0.58C-0.044,0.58 -0.08,0.32 -0.08,0C-0.08,-0.32 -0.044,-0.58 0,-0.58ZM0,-0.4C0.019,-0.4 0.035,-0.221 0.035,0C0.035,0.221 0.019,0.4 0,0.4C-0.019,0.4 -0.035,0.221 -0.035,0C-0.035,-0.221 -0.019,-0.4 0,-0.4Z","M0,-1C0.155,-1 0.28,-0.552 0.28,0C0.28,0.552 0.155,1 0,1C-0.155,1 -0.28,0.552 -0.28,0C-0.28,-0.552 -0.155,-1 0,-1ZM0,-0.76C0.102,-0.76 0.185,-0.42 0.185,0C0.185,0.42 0.102,0.76 0,0.76C-0.102,0.76 -0.185,0.42 -0.185,0C-0.185,-0.42 -0.102,-0.76 0,-0.76ZM0,-0.48C0.055,-0.48 0.1,-0.265 0.1,0C0.1,0.265 0.055,0.48 0,0.48C-0.055,0.48 -0.1,0.265 -0.1,0C-0.1,-0.265 -0.055,-0.48 0,-0.48ZM0,-0.2C0.028,-0.2 0.05,-0.11 0.05,0C0.05,0.11 0.028,0.2 0,0.2C-0.028,0.2 -0.05,0.11 -0.05,0C-0.05,-0.11 -0.028,-0.2 0,-0.2Z"]}},
"size":{"field":"h","type":"quantitative","legend":null,"scale":{"type":"pow","exponent":2,"domain":[0,1],"range":[0,2830]}}
}},
{"data":{"name":"lb"},"mark":{"type":"line","color":"black","strokeWidth":1.1,"interpolate":"monotone","clip":true},
"encoding":{
"x":{"field":"t","type":"quantitative","scale":{"domain":[0,40],"nice":false,"zero":false},"axis":{"orient":"top","values":[0,10,20,30,40],"labels":false,"title":null}},
"y":{"field":"x","type":"quantitative","scale":{"domain":[-2.45,2.38],"nice":false,"zero":false},"axis":{"orient":"right","values":[-2,-1,0,1,2],"labels":false,"title":null}},
"detail":{"field":"l","type":"nominal"}
}}
],
"resolve":{"axis":{"x":"independent","y":"independent"}}
},
{"width":406,"height":257,
"title":{"text":"(c)\u2003ψ(x, 0) = ψ₀ + ϵψ₀ sin(kx)","offset":9,"dx":1},
"layer":[
{"data":{"name":"ec"},"mark":{"type":"point","filled":false,"stroke":"black","strokeWidth":1.1,"opacity":1,"clip":true},
"encoding":{
"x":{"field":"t","type":"quantitative","scale":{"domain":[0,40],"nice":false,"zero":false},"axis":{"orient":"bottom","values":[0,10,20,30,40],"labelPadding":11.5,"labelFlush":false,"labelOverlap":false,"title":null}},
"y":{"field":"x","type":"quantitative","scale":{"domain":[-2.45,2.38],"nice":false,"zero":false},"axis":{"orient":"left","values":[-2,-1,0,1,2],"labelPadding":13,"labelFlush":false,"labelOverlap":false,"labelExpr":"datum.value < 0 ? '− ' + abs(datum.value) : datum.label","title":null}},
"shape":{"field":"k","type":"nominal","legend":null,"scale":{"domain":["b","s"],"range":["M0,-1C0.099,-1 0.18,-0.552 0.18,0C0.18,0.552 0.099,1 0,1C-0.099,1 -0.18,0.552 -0.18,0C-0.18,-0.552 -0.099,-1 0,-1ZM0,-0.83C0.072,-0.83 0.13,-0.458 0.13,0C0.13,0.458 0.072,0.83 0,0.83C-0.072,0.83 -0.13,0.458 -0.13,0C-0.13,-0.458 -0.072,-0.83 0,-0.83ZM0,-0.58C0.044,-0.58 0.08,-0.32 0.08,0C0.08,0.32 0.044,0.58 0,0.58C-0.044,0.58 -0.08,0.32 -0.08,0C-0.08,-0.32 -0.044,-0.58 0,-0.58ZM0,-0.4C0.019,-0.4 0.035,-0.221 0.035,0C0.035,0.221 0.019,0.4 0,0.4C-0.019,0.4 -0.035,0.221 -0.035,0C-0.035,-0.221 -0.019,-0.4 0,-0.4Z","M0,-1C0.155,-1 0.28,-0.552 0.28,0C0.28,0.552 0.155,1 0,1C-0.155,1 -0.28,0.552 -0.28,0C-0.28,-0.552 -0.155,-1 0,-1ZM0,-0.76C0.102,-0.76 0.185,-0.42 0.185,0C0.185,0.42 0.102,0.76 0,0.76C-0.102,0.76 -0.185,0.42 -0.185,0C-0.185,-0.42 -0.102,-0.76 0,-0.76ZM0,-0.48C0.055,-0.48 0.1,-0.265 0.1,0C0.1,0.265 0.055,0.48 0,0.48C-0.055,0.48 -0.1,0.265 -0.1,0C-0.1,-0.265 -0.055,-0.48 0,-0.48ZM0,-0.2C0.028,-0.2 0.05,-0.11 0.05,0C0.05,0.11 0.028,0.2 0,0.2C-0.028,0.2 -0.05,0.11 -0.05,0C-0.05,-0.11 -0.028,-0.2 0,-0.2Z"]}},
"size":{"field":"h","type":"quantitative","legend":null,"scale":{"type":"pow","exponent":2,"domain":[0,1],"range":[0,2830]}}
}},
{"data":{"name":"lc"},"mark":{"type":"line","color":"black","strokeWidth":1.1,"interpolate":"monotone","clip":true},
"encoding":{
"x":{"field":"t","type":"quantitative","scale":{"domain":[0,40],"nice":false,"zero":false},"axis":{"orient":"top","values":[0,10,20,30,40],"labels":false,"title":null}},
"y":{"field":"x","type":"quantitative","scale":{"domain":[-2.45,2.38],"nice":false,"zero":false},"axis":{"orient":"right","values":[-2,-1,0,1,2],"labels":false,"title":null}},
"detail":{"field":"l","type":"nominal"}
}}
],
"resolve":{"axis":{"x":"independent","y":"independent"}}
},
{"width":406,"height":257,
"title":{"text":"(d)\u2003ψ(x, 0) = ψ₀ + ϵψ₀ (cos(kx) + sin(kx))","offset":9,"dx":-5},
"layer":[
{"data":{"name":"ec"},"mark":{"type":"point","filled":false,"stroke":"black","strokeWidth":1.1,"opacity":1,"clip":true},
"encoding":{
"x":{"field":"t","type":"quantitative","scale":{"domain":[0,40],"nice":false,"zero":false},"axis":{"orient":"bottom","values":[0,10,20,30,40],"labelPadding":11.5,"labelFlush":false,"labelOverlap":false,"title":null}},
"y":{"field":"x","type":"quantitative","scale":{"domain":[-2.45,2.38],"nice":false,"zero":false},"axis":{"orient":"left","values":[-2,-1,0,1,2],"labelPadding":13,"labelFlush":false,"labelOverlap":false,"labelExpr":"datum.value < 0 ? '− ' + abs(datum.value) : datum.label","title":null}},
"shape":{"field":"k","type":"nominal","legend":null,"scale":{"domain":["b","s"],"range":["M0,-1C0.099,-1 0.18,-0.552 0.18,0C0.18,0.552 0.099,1 0,1C-0.099,1 -0.18,0.552 -0.18,0C-0.18,-0.552 -0.099,-1 0,-1ZM0,-0.83C0.072,-0.83 0.13,-0.458 0.13,0C0.13,0.458 0.072,0.83 0,0.83C-0.072,0.83 -0.13,0.458 -0.13,0C-0.13,-0.458 -0.072,-0.83 0,-0.83ZM0,-0.58C0.044,-0.58 0.08,-0.32 0.08,0C0.08,0.32 0.044,0.58 0,0.58C-0.044,0.58 -0.08,0.32 -0.08,0C-0.08,-0.32 -0.044,-0.58 0,-0.58ZM0,-0.4C0.019,-0.4 0.035,-0.221 0.035,0C0.035,0.221 0.019,0.4 0,0.4C-0.019,0.4 -0.035,0.221 -0.035,0C-0.035,-0.221 -0.019,-0.4 0,-0.4Z","M0,-1C0.155,-1 0.28,-0.552 0.28,0C0.28,0.552 0.155,1 0,1C-0.155,1 -0.28,0.552 -0.28,0C-0.28,-0.552 -0.155,-1 0,-1ZM0,-0.76C0.102,-0.76 0.185,-0.42 0.185,0C0.185,0.42 0.102,0.76 0,0.76C-0.102,0.76 -0.185,0.42 -0.185,0C-0.185,-0.42 -0.102,-0.76 0,-0.76ZM0,-0.48C0.055,-0.48 0.1,-0.265 0.1,0C0.1,0.265 0.055,0.48 0,0.48C-0.055,0.48 -0.1,0.265 -0.1,0C-0.1,-0.265 -0.055,-0.48 0,-0.48ZM0,-0.2C0.028,-0.2 0.05,-0.11 0.05,0C0.05,0.11 0.028,0.2 0,0.2C-0.028,0.2 -0.05,0.11 -0.05,0C-0.05,-0.11 -0.028,-0.2 0,-0.2Z"]}},
"size":{"field":"h","type":"quantitative","legend":null,"scale":{"type":"pow","exponent":2,"domain":[0,1],"range":[0,2830]}}
}},
{"data":{"name":"lc"},"mark":{"type":"line","color":"black","strokeWidth":1.1,"interpolate":"monotone","clip":true},
"encoding":{
"x":{"field":"t","type":"quantitative","scale":{"domain":[0,40],"nice":false,"zero":false},"axis":{"orient":"top","values":[0,10,20,30,40],"labels":false,"title":null}},
"y":{"field":"x","type":"quantitative","scale":{"domain":[-2.45,2.38],"nice":false,"zero":false},"axis":{"orient":"right","values":[-2,-1,0,1,2],"labels":false,"title":null}},
"detail":{"field":"l","type":"nominal"}
}}
],
"resolve":{"axis":{"x":"independent","y":"independent"}}
}
]
}
